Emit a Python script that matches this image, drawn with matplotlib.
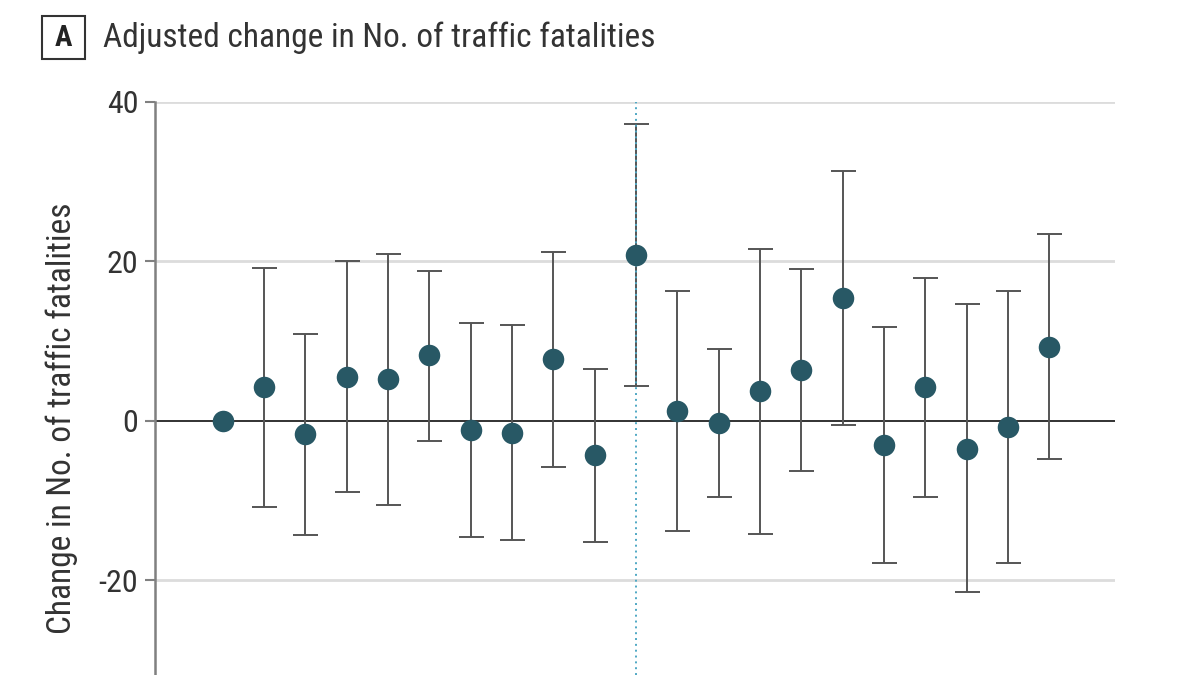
import matplotlib
matplotlib.use("Agg")
import matplotlib.pyplot as plt
from matplotlib.patches import Rectangle
import numpy as np

# adjusted change estimates with 95% CI, one per period
estimate = [0.0, 4.2, -1.7, 5.5, 5.2, 8.2, -1.2, -1.5, 7.7, -4.3, 20.8,
            1.25, -0.35, 3.7, 6.3, 15.4, -3.1, 4.2, -3.5, -0.85, 9.3]
ci_low = [0.0, -10.8, -14.4, -8.9, -10.6, -2.5, -14.6, -15.0, -5.8, -15.2, 4.35,
          -13.8, -9.6, -14.2, -6.3, -0.6, -17.9, -9.6, -21.5, -17.9, -4.8]
ci_high = [0.0, 19.2, 10.9, 20.0, 20.9, 18.8, 12.2, 11.95, 21.15, 6.5, 37.2,
           16.3, 9.0, 21.5, 19.0, 31.3, 11.75, 17.9, 14.6, 16.25, 23.4]
yticks = [-20, 0, 20, 40]
event_index = 10

plt.rcParams["font.family"] = ["Roboto Condensed", "Lato", "DejaVu Sans"]

fig = plt.figure(figsize=(12, 6.75), dpi=100)
ax = fig.add_axes([0.1292, 0.0, 0.7998, 0.8493])

x = np.arange(len(estimate))
est = np.array(estimate)
err = np.vstack([est - np.array(ci_low), np.array(ci_high) - est])
has_ci = err.sum(axis=0) > 0

for yv in (-20, 20, 40):
    ax.axhline(yv, color="#dcdcdc", lw=2, zorder=0)
ax.axhline(0, color="#222222", lw=1.3, zorder=1)

ax.errorbar(x[has_ci], est[has_ci], yerr=err[:, has_ci], fmt="none",
            ecolor="#555555", elinewidth=1.4, capsize=9, capthick=1.4, zorder=2)
ax.axvline(event_index, color="#4fa8c4", lw=1.4, ls=(0, (1, 2)), zorder=3)
ax.plot(x, est, "o", ms=15.5, color="#285865", mec="none", zorder=4)

ax.set_xlim(-1.64, 21.58)
ax.set_ylim(-31.9, 40)
ax.set_yticks(yticks)
ax.set_yticklabels([str(t) for t in yticks], fontsize=23, color="#333333")
ax.set_xticks([])
for s in ("top", "right", "bottom"):
    ax.spines[s].set_visible(False)
ax.spines["left"].set_color("#808080")
ax.spines["left"].set_linewidth(1.8)
ax.tick_params(axis="y", length=7, width=1.5, color="#808080", pad=5)

fig.text(62 / 1200, 1 - 418 / 675, "Change in No. of traffic fatalities",
         rotation=90, ha="center", va="center", fontsize=24, color="#333333")

fig.patches.append(Rectangle((42 / 1200, 1 - 59 / 675), 43 / 1200, 43 / 675,
                             transform=fig.transFigure, fill=False,
                             ec="#333333", lw=1.5))
fig.text(63.5 / 1200, 1 - 37.5 / 675, "A", ha="center", va="center", fontsize=21,
         fontweight="bold", color="#222222")
fig.text(103 / 1200, 1 - 38 / 675, "Adjusted change in No. of traffic fatalities",
         ha="left", va="center", fontsize=24, color="#333333")

fig.savefig("out.png", dpi=100)
